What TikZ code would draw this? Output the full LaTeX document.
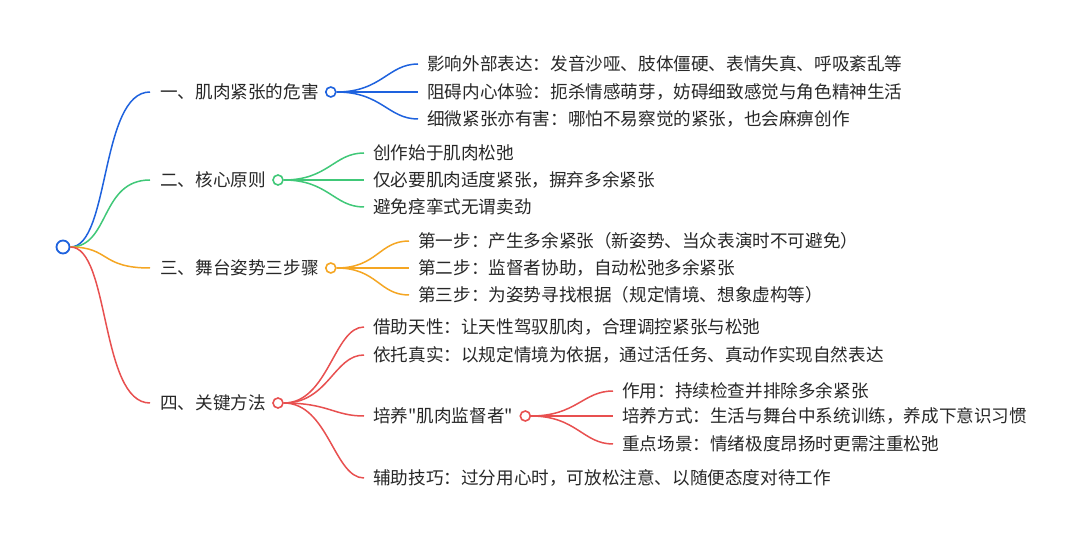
\documentclass[tikz,border=0pt]{standalone}
\usepackage{fontspec}
\newfontfamily\cjkfont{Noto Sans CJK SC}
\definecolor{cblue}{RGB}{30,98,222}
\definecolor{cgreen}{RGB}{64,200,120}
\definecolor{corange}{RGB}{245,166,35}
\definecolor{cred}{RGB}{232,80,80}
\definecolor{ctext}{RGB}{40,40,40}
\usetikzlibrary{calc}
\tikzset{
  lbl/.style={anchor=west, inner xsep=0pt, inner ysep=2pt, font=\cjkfont\fontsize{17.6}{21}\selectfont, text=ctext},
  dot/.style={circle, draw=#1, fill=white, line width=1.6pt, inner sep=0pt, minimum size=10pt},
  rootdot/.style={circle, draw=#1, fill=white, line width=1.8pt, inner sep=0pt, minimum size=13pt},
  link/.style={draw=#1, line width=1.5pt},
}
\newcommand{\curve}[4]{% color, from, to-node, gap
  \draw[link=#1] (#2.east) .. controls ($(#2.east)!0.5!(#2.east -| #3.west)$) and ($(#3.west)+(-#4-30,0)$) .. ($(#3.west)+(-#4,0)$);}
\begin{document}
\begin{tikzpicture}[x=1pt,y=-1pt]
\useasboundingbox[fill=white] (0,0) rectangle (1080,540);
% root
\node[rootdot=cblue] (root) at (63,247) {};
% level 1
\node[lbl] (a) at (160,92) {一、肌肉紧张的危害};
\node[lbl] (b) at (160,180) {二、核心原则};
\node[lbl] (c) at (160,268) {三、舞台姿势三步骤};
\node[lbl] (d) at (160,403) {四、关键方法};
\node[dot=cblue] (ad) at ($(a.east)+(12,0)$) {};
\node[dot=cgreen] (bd) at ($(b.east)+(12,0)$) {};
\node[dot=corange] (cd) at ($(c.east)+(12,0)$) {};
\node[dot=cred] (dd) at ($(d.east)+(12,0)$) {};
% root links
\draw[link=cblue] (root.east) .. controls (110,247) and (100,92) .. ($(a.west)+(-10,0)$);
\draw[link=cgreen] (root.east) .. controls (110,247) and (100,180) .. ($(b.west)+(-10,0)$);
\draw[link=corange] (root.east) .. controls (110,247) and (100,268) .. ($(c.west)+(-10,0)$);
\draw[link=cred] (root.east) .. controls (110,247) and (100,403) .. ($(d.west)+(-10,0)$);
% blue children
\node[lbl] (a1) at (427,64) {影响外部表达：发音沙哑、肢体僵硬、表情失真、呼吸紊乱等};
\node[lbl] (a2) at (427,92) {阻碍内心体验：扼杀情感萌芽，妨碍细致感觉与角色精神生活};
\node[lbl] (a3) at (427,119) {细微紧张亦有害：哪怕不易察觉的紧张，也会麻痹创作};
\foreach \n in {a1,a2,a3}{\curve{cblue}{ad}{\n}{9}}
% green children
\node[lbl] (b1) at (373,153) {创作始于肌肉松弛};
\node[lbl] (b2) at (373,180) {仅必要肌肉适度紧张，摒弃多余紧张};
\node[lbl] (b3) at (373,207) {避免痉挛式无谓卖劲};
\foreach \n in {b1,b2,b3}{\curve{cgreen}{bd}{\n}{9}}
% orange children
\node[lbl] (c1) at (418,241) {第一步：产生多余紧张（新姿势、当众表演时不可避免）};
\node[lbl] (c2) at (418,268) {第二步：监督者协助，自动松弛多余紧张};
\node[lbl] (c3) at (418,295) {第三步：为姿势寻找根据（规定情境、想象虚构等）};
\foreach \n in {c1,c2,c3}{\curve{corange}{cd}{\n}{9}}
% red children
\node[lbl] (d1) at (373,327) {借助天性：让天性驾驭肌肉，合理调控紧张与松弛};
\node[lbl] (d2) at (373,355) {依托真实：以规定情境为依据，通过活任务、真动作实现自然表达};
\node[lbl] (d3) at (373,416) {培养"肌肉监督者"};
\node[lbl] (d4) at (373,478) {辅助技巧：过分用心时，可放松注意、以随便态度对待工作};
\foreach \n in {d1,d2,d3,d4}{\curve{cred}{dd}{\n}{9}}
\node[dot=cred] (d3d) at ($(d3.east)+(12,0)$) {};
\node[lbl] (e1) at (622,391) {作用：持续检查并排除多余紧张};
\node[lbl] (e2) at (622,416) {培养方式：生活与舞台中系统训练，养成下意识习惯};
\node[lbl] (e3) at (622,444) {重点场景：情绪极度昂扬时更需注重松弛};
\foreach \n in {e1,e2,e3}{\curve{cred}{d3d}{\n}{9}}
\end{tikzpicture}
\end{document}
